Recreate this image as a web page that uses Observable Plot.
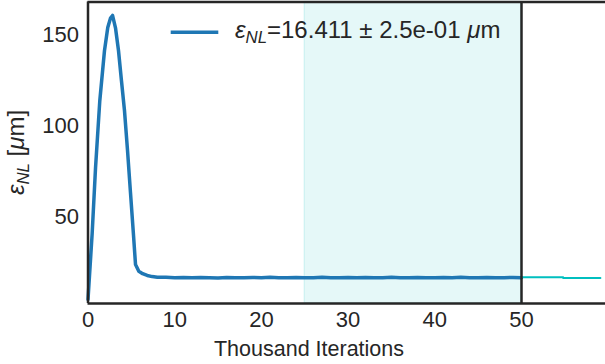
<!DOCTYPE html>
<html><head><meta charset="utf-8">
<script src="https://cdn.jsdelivr.net/npm/d3@7"></script>
<script src="https://cdn.jsdelivr.net/npm/@observablehq/plot@0.6"></script>
<style>
body{margin:0;background:#fff;}
#chart{position:relative;width:605px;height:364px;overflow:hidden;}
#chart svg{display:block;}
</style></head><body><div id="chart"></div>
<script>
// ---- data ----
const runX = [0, 0.48, 0.87, 1.36, 1.9, 2.28, 2.6, 2.83, 3.17, 3.52, 3.86, 4.21, 4.56, 4.9, 5.25, 5.48, 5.86, 6.3, 6.83, 7.4, 8,
  9, 10, 11, 12, 13, 14, 15, 16, 17, 18, 19, 20, 21, 22, 23, 24, 25, 26, 27, 28, 29, 30,
  31, 32, 33, 34, 35, 36, 37, 38, 39, 40, 41, 42, 43, 44, 45, 46, 47, 48, 49, 50];
const runY = [4.4, 40.7, 76.9, 113.7, 141.2, 154, 159.2, 160.6, 153.8, 141.2, 124.7, 108.2, 86.3, 63.2, 39.6, 23.6, 19.9, 18.6, 17.6, 17.0, 16.6,
  16.6, 16.4, 16.5, 16.3, 16.5, 16.4, 16.2, 16.5, 16.4, 16.3, 16.5, 16.4, 16.6, 16.3, 16.4, 16.5, 16.3, 16.4, 16.6, 16.4, 16.3, 16.5,
  16.4, 16.5, 16.3, 16.4, 16.6, 16.4, 16.3, 16.5, 16.4, 16.3, 16.5, 16.4, 16.6, 16.3, 16.4, 16.5, 16.3, 16.4, 16.5, 16.4];
const tailX = [50, 54.8, 54.8, 59.1];
const tailY = [16.7, 16.7, 16.2, 16.2];
const spanStart = 25, spanEnd = 50;
const cutoff = 50;
const xTicks = [0, 10, 20, 30, 40, 50];
const yTicks = [50, 100, 150];
const xDomain = [0, 60];
const yDomain = [2.2, 168];
const xLabel = "Thousand Iterations";
const legendMean = "16.411", legendErr = "2.5e-01";

// ---- chart ----
const FONT = "'Liberation Sans', Arial, sans-serif";
const INK = "#262626";
const run = runX.map((x, i) => ({x, y: runY[i]}));
const tail = tailX.map((x, i) => ({x, y: tailY[i]}));

const plot = Plot.plot({
  width: 605, height: 364,
  marginLeft: 87.5, marginRight: 0, marginTop: 1.5, marginBottom: 61,
  x: {domain: xDomain, range: [87.5, 607.7]},
  y: {domain: yDomain, range: [303, 1.5]},
  style: {fontFamily: FONT, fontSize: "22px", color: INK, background: "#fff", overflow: "hidden"},
  marks: [
    Plot.rect([{x1: spanStart, x2: spanEnd}], {x1: "x1", x2: "x2", fill: "#00bfbf", fillOpacity: 0.1, stroke: "#00bfbf", strokeOpacity: 0.12, strokeWidth: 1.5}),
    Plot.line(run, {x: "x", y: "y", stroke: "#1f77b4", strokeWidth: 3.5, strokeLinejoin: "round"}),
    Plot.line(tail, {x: "x", y: "y", stroke: "#00bfbf", strokeWidth: 2}),
    Plot.ruleX([xDomain[0], cutoff], {stroke: INK, strokeWidth: 2.5}),
    Plot.ruleY(yDomain, {stroke: INK, strokeWidth: 2.5}),
    Plot.axisX(xTicks, {tickSize: 0, tickPadding: 8, label: null, fontSize: 22}),
    Plot.axisY(yTicks, {tickSize: 0, tickPadding: 9, label: null, fontSize: 22})
  ]
});
document.getElementById("chart").appendChild(plot);

const svg = d3.select(plot);
function mathText(sel, parts, size) {
  let shifted = 0;
  parts.forEach(p => {
    const ts = sel.append("tspan").text(p.t);
    if (p.it) ts.attr("font-style", "italic");
    if (p.sub) {
      ts.attr("font-size", size * 0.7).attr("dy", size * 0.22 - shifted);
      shifted = size * 0.22;
    } else if (shifted) {
      ts.attr("dy", -shifted);
      shifted = 0;
    }
  });
}

// x label
svg.append("text").attr("x", 309).attr("y", 356).attr("text-anchor", "middle")
  .attr("font-family", FONT).attr("font-size", 21.5).attr("fill", INK).text(xLabel);

// y label
const yl = svg.append("text").attr("transform", "translate(23.5,152.5) rotate(-90)")
  .attr("text-anchor", "middle").attr("font-family", FONT).attr("font-size", 24).attr("fill", INK);
mathText(yl, [{t: "ε", it: true}, {t: "NL", it: true, sub: true}, {t: " ["}, {t: "μ", it: true}, {t: "m]"}], 24);

// legend
svg.append("line").attr("x1", 170.7).attr("x2", 218.3).attr("y1", 32.3).attr("y2", 32.3)
  .attr("stroke", "#1f77b4").attr("stroke-width", 3.5);
const lg = svg.append("text").attr("x", 235).attr("y", 37.5).attr("text-anchor", "start")
  .attr("font-family", FONT).attr("font-size", 24).attr("fill", INK);
mathText(lg, [{t: "ε", it: true}, {t: "NL", it: true, sub: true}, {t: "=" + legendMean + " ± " + legendErr + " "}, {t: "μ", it: true}, {t: "m"}], 24);
</script></body></html>
